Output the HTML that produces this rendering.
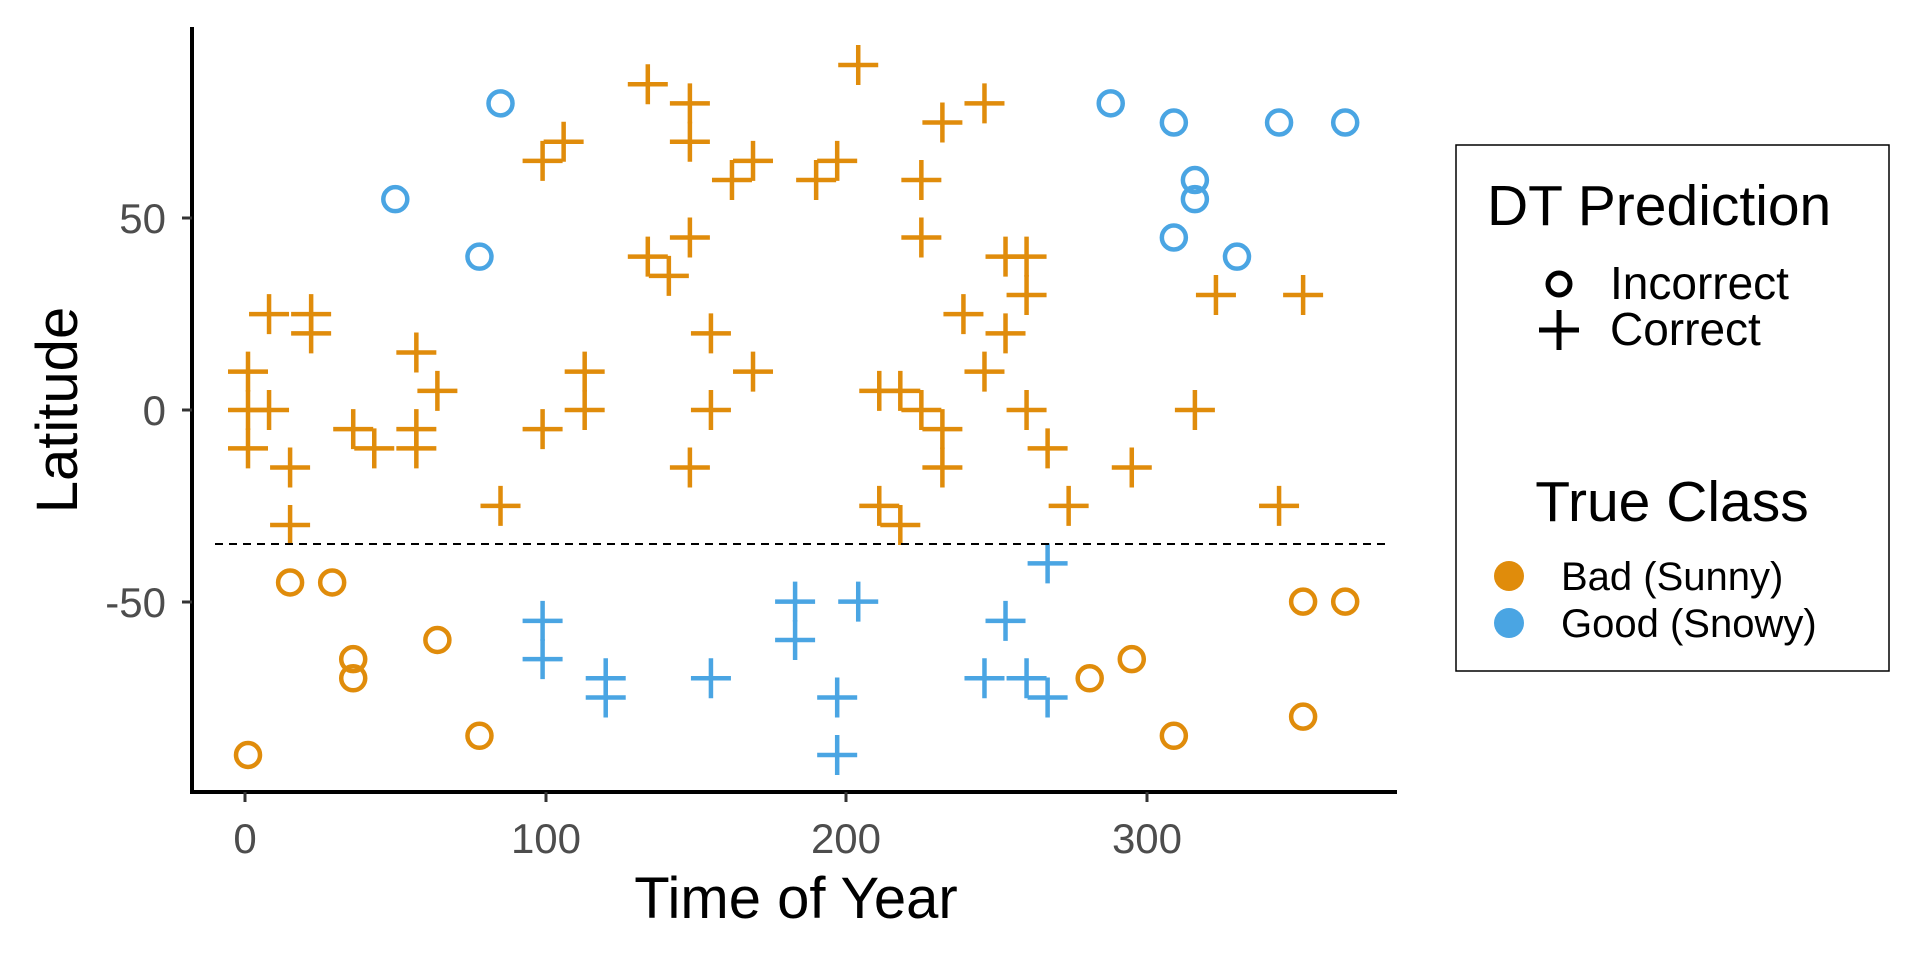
<!DOCTYPE html>
<html><head><meta charset="utf-8"><style>
html,body{margin:0;padding:0;background:#fff;}
svg{display:block;font-family:"Liberation Sans",Arial,sans-serif;}
</style></head><body>
<svg id="s" width="1920" height="960" xmlns="http://www.w3.org/2000/svg">
<rect width="1920" height="960" fill="#fff"/>
<g id="pts"></g>
<line x1="215" y1="544" x2="1388" y2="544" stroke="#000" stroke-width="2" stroke-dasharray="8,6"/>
<line x1="192" y1="27" x2="192" y2="794" stroke="#000" stroke-width="4"/>
<line x1="190" y1="792" x2="1397" y2="792" stroke="#000" stroke-width="4"/>
<g stroke="#333" stroke-width="3">
<line x1="245" y1="792" x2="245" y2="802"/><line x1="546" y1="792" x2="546" y2="802"/>
<line x1="846" y1="792" x2="846" y2="802"/><line x1="1147" y1="792" x2="1147" y2="802"/>
<line x1="182" y1="218" x2="192" y2="218"/><line x1="182" y1="410" x2="192" y2="410"/><line x1="182" y1="602" x2="192" y2="602"/>
</g>
<g font-size="42" fill="#4d4d4d" text-anchor="middle">
<text x="245" y="853">0</text><text x="546" y="853">100</text><text x="846" y="853">200</text><text x="1147" y="853">300</text>
</g>
<g font-size="42" fill="#4d4d4d" text-anchor="end">
<text x="166" y="233">50</text><text x="166" y="425">0</text><text x="166" y="617">-50</text>
</g>
<text x="796" y="918" font-size="58" text-anchor="middle">Time of Year</text>
<text transform="translate(77,410) rotate(-90)" font-size="58" text-anchor="middle">Latitude</text>
<rect x="1456" y="145" width="433" height="526" fill="none" stroke="#000" stroke-width="1.5"/>
<text x="1487" y="225" font-size="57">DT Prediction</text>
<circle cx="1559" cy="284" r="11" fill="none" stroke="#000" stroke-width="5"/>
<path d="M1539 330h40M1559 310v40" stroke="#000" stroke-width="5"/>
<text x="1610" y="299" font-size="46">Incorrect</text>
<text x="1610" y="345" font-size="46">Correct</text>
<text x="1672" y="521" font-size="57" text-anchor="middle">True Class</text>
<circle cx="1509" cy="576" r="15" fill="#E08C0B"/>
<circle cx="1509" cy="623" r="15" fill="#4AA5E3"/>
<text x="1561" y="590" font-size="40">Bad (Sunny)</text>
<text x="1561" y="637" font-size="40">Good (Snowy)</text>
</svg>
<script>
var O="#E08C0B",B="#4AA5E3";
function X(t){return 245+3.006*t;}function Y(l){return 410-3.833*l;}
var oc=[[15,-45],[29,-45],[36,-65],[36,-70],[64,-60],[78,-85],[1,-90],[281,-70],[295,-65],[309,-85],[352,-80],[352,-50],[366,-50]];
var bc=[[50,55],[78,40],[85,80],[288,80],[309,75],[316,60],[316,55],[309,45],[330,40],[344,75],[366,75]];
var bx=[[99,-55],[99,-65],[120,-70],[120,-75],[155,-70],[183,-50],[183,-60],[204,-50],[197,-75],[197,-90],[246,-70],[253,-55],[260,-70],[267,-75],[267,-40]];
var ox=[[1,10],[1,0],[1,-10],[8,0],[8,25],[22,25],[22,20],[15,-15],[15,-30],[36,-5],[43,-10],[57,15],[57,-5],[57,-10],[64,5],[85,-25],[99,-5],[99,65],[106,70],[113,10],[113,0],[134,85],[134,40],[141,35],[148,80],[148,70],[148,45],[148,-15],[155,20],[155,0],[162,60],[169,65],[169,10],[190,60],[197,65],[204,90],[211,5],[211,-25],[218,5],[218,-30],[225,0],[225,60],[225,45],[232,75],[232,-5],[232,-15],[239,25],[246,80],[246,10],[253,40],[253,20],[260,40],[260,30],[260,0],[267,-10],[274,-25],[295,-15],[316,0],[323,30],[344,-25],[352,30]];
var h="";
function cir(a,c){a.forEach(function(p){h+='<circle cx="'+X(p[0])+'" cy="'+Y(p[1])+'" r="12" fill="none" stroke="'+c+'" stroke-width="4.5"/>';});}
function crs(a,c){a.forEach(function(p){var x=X(p[0]),y=Y(p[1]);h+='<path d="M'+(x-20)+' '+y+'h40M'+x+' '+(y-20)+'v40" stroke="'+c+'" stroke-width="4.5" fill="none"/>';});}
cir(oc,O);cir(bc,B);crs(ox,O);crs(bx,B);
document.getElementById("pts").innerHTML=h;
</script>
</body></html>
